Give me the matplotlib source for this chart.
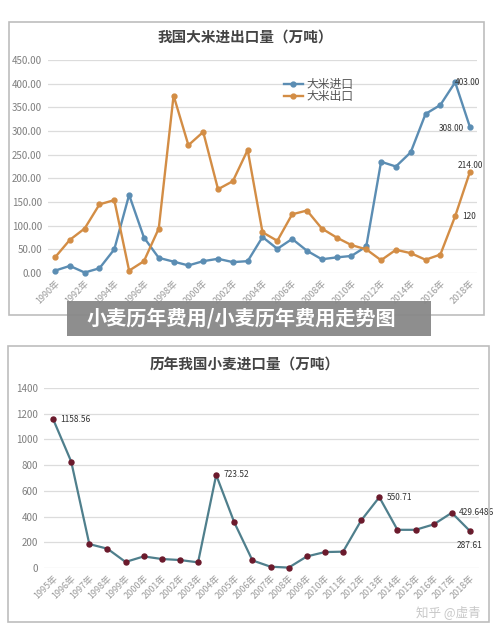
import matplotlib.pyplot as plt
from matplotlib.patches import Rectangle
import numpy as np

plt.rcParams['font.family'] = ['Noto Sans CJK SC', 'DejaVu Sans']

# 大米进出口 (万吨)
rice_years = list(range(1990, 2019))
rice_import = [5, 15, 1, 10, 50, 165, 75, 32, 24, 16, 25, 30, 23, 25, 76, 51, 72, 47,
               29, 33, 36, 56, 235, 225, 255, 336, 355, 403, 308]
rice_export = [33, 70, 94, 145, 154, 5, 25, 94, 375, 270, 298, 177, 194, 260, 86, 68,
               124, 132, 94, 75, 59, 50, 27, 49, 42, 28, 39, 120, 214]

# 小麦进口 (万吨)
wheat_years = list(range(1995, 2019))
wheat_import = [1158.56, 828, 186, 150, 47, 90, 70, 62, 44, 723.52, 354, 59, 10, 3,
                90, 124, 127, 370, 550.71, 297, 297, 339, 429.6486, 287.61]

W, H = 500, 637
fig = plt.figure(figsize=(W / 100, H / 100), dpi=100)
fig.patch.set_facecolor('white')


def box(x0, y0, x1, y1):
    # pixel coords (top-left origin) -> figure fraction
    return [x0 / W, 1 - y1 / H, (x1 - x0) / W, (y1 - y0) / H]


grey = '#7f7f7f'
grid = '#dcdcdc'

# frames of the two charts
for (x0, y0, x1, y1) in [(9, 22, 484, 315), (8, 346, 489, 622)]:
    fig.patches.append(Rectangle((x0 / W, 1 - y1 / H), (x1 - x0) / W, (y1 - y0) / H,
                                 transform=fig.transFigure, fill=False,
                                 edgecolor='#bdbdbd', lw=1.2))

# ---- top chart: rice ----
ax1 = fig.add_axes(box(47.6, 60, 477.4, 273))
xi = np.arange(len(rice_years))
l1, = ax1.plot(xi, rice_import, color='#5b8db3', lw=1.7, marker='o', ms=3.5, clip_on=False,
               label='大米进口')
l2, = ax1.plot(xi, rice_export, color='#d38d45', lw=1.7, marker='o', ms=3.5, clip_on=False,
               label='大米出口')
ax1.set_xlim(-0.5, len(rice_years) - 0.5)
ax1.set_ylim(0, 450)
ax1.set_yticks(np.arange(0, 451, 50))
ax1.set_yticklabels(['%.2f' % v for v in np.arange(0, 451, 50)], fontsize=7, color=grey)
ax1.set_xticks(xi[::2])
ax1.set_xticklabels(['%d年' % y for y in rice_years[::2]], rotation=45, fontsize=6.5,
                    color='#9a9a9a', ha='right', rotation_mode='anchor')
ax1.grid(axis='y', color=grid, lw=0.9)
ax1.set_axisbelow(True)
ax1.tick_params(length=0, pad=4)
for s in ax1.spines.values():
    s.set_visible(False)
ax1.text(xi[-2] - 0.05, rice_import[-2], '403.00', fontsize=6, va='center', color='#333333')
ax1.text(xi[-1] - 0.4, rice_import[-1] - 3, '308.00', fontsize=6, va='center', ha='right',
         color='#333333')
ax1.text(xi[-1], rice_export[-1] + 14, '214.00', fontsize=6, va='center', ha='center',
         color='#333333')
ax1.text(xi[-2] + 0.5, rice_export[-2], '120', fontsize=6, va='center', color='#333333')
fig.text(245 / W, 1 - 37 / H, '我国大米进出口量（万吨）', ha='center', va='center',
         fontsize=10.5, fontweight='bold', color='#444444')
ax1.legend(handles=[l1, l2], loc='upper left', bbox_to_anchor=(278 / W, 1 - 72 / H),
           bbox_transform=fig.transFigure, frameon=False, fontsize=8.5, handlelength=1.6,
           handletextpad=0.3, labelspacing=-0.1, borderpad=0, labelcolor='#555555')

# ---- bottom chart: wheat ----
ax2 = fig.add_axes(box(44, 388, 479, 568))
xw = np.arange(len(wheat_years))
ax2.plot(xw, wheat_import, color='#4f7f8c', lw=1.6, marker='o', ms=3.6,
         mfc='#6b1a2c', mec='#6b1a2c', clip_on=False)
ax2.set_xlim(-0.5, len(wheat_years) - 0.5)
ax2.set_ylim(0, 1400)
ax2.set_yticks(np.arange(0, 1401, 200))
ax2.set_yticklabels([str(v) for v in np.arange(0, 1401, 200)], fontsize=7, color=grey)
ax2.set_xticks(xw)
ax2.set_xticklabels(['%d年' % y for y in wheat_years], rotation=45, fontsize=6.5,
                    color='#9a9a9a', ha='right', rotation_mode='anchor')
ax2.grid(axis='y', color=grid, lw=0.9)
ax2.set_axisbelow(True)
ax2.tick_params(length=0, pad=4)
for s in ax2.spines.values():
    s.set_visible(False)
for i, lab in [(0, '1158.56'), (9, '723.52'), (18, '550.71'), (22, '429.6486')]:
    ax2.text(xw[i] + 0.4, wheat_import[i], lab, fontsize=6, va='center', color='#333333')
ax2.annotate('287.61', xy=(xw[-1], wheat_import[-1]), xytext=(xw[-1], wheat_import[-1] - 110),
             fontsize=6, ha='center', va='center', color='#333333',
             arrowprops=dict(arrowstyle='-', color='#333333', lw=0.6, shrinkA=3, shrinkB=2))
fig.text(245 / W, 1 - 364 / H, '历年我国小麦进口量（万吨）', ha='center', va='center',
         fontsize=10.5, fontweight='bold', color='#444444')

# banner over the join
fig.patches.append(Rectangle((67 / W, 1 - 336 / H), (431 - 67) / W, 35 / H,
                             transform=fig.transFigure, facecolor='#888888', alpha=0.95,
                             edgecolor='none', zorder=5))
fig.text(241 / W, 1 - 318 / H, '小麦历年费用/小麦历年费用走势图', ha='center', va='center',
         fontsize=14.5, fontweight='bold', color='white', zorder=6)

# watermark
fig.text(448 / W, 1 - 612 / H, '知乎 @虚青', ha='center', va='center', fontsize=9,
         color='#c8c8c8')

fig.savefig('out.png', dpi=100, facecolor='white')
